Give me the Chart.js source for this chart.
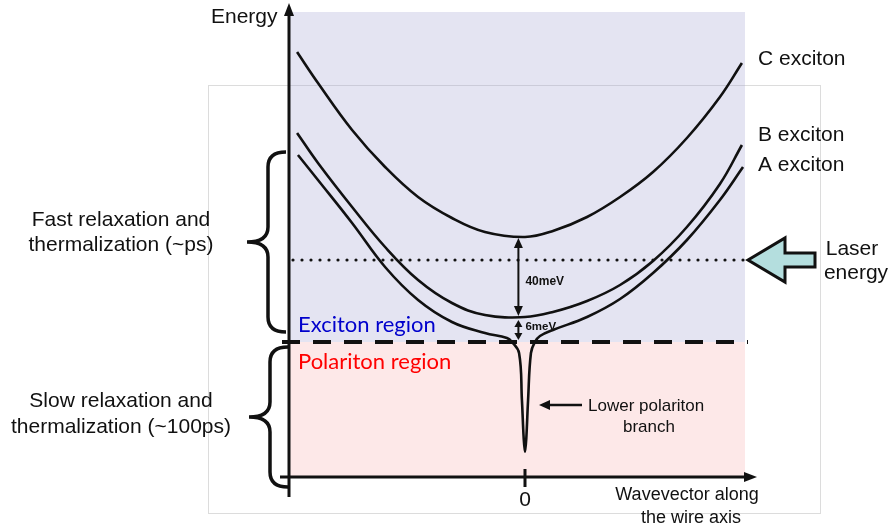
<!DOCTYPE html>
<html>
<head>
<meta charset="utf-8">
<script src="https://cdn.jsdelivr.net/npm/chart.js@4"></script>
<style>
  body { margin: 0; background: #fff; }
  #wrap { width: 892px; height: 531px; }
</style>
</head>
<body>
<div id="wrap"><canvas id="chart"></canvas></div>
<script>
// wavevector k (0 = zone centre) and energy in meV above the exciton/polariton border
const kC = [-1.036, -0.941, -0.786, -0.636, -0.486, -0.332, -0.182, 0, 0.127, 0.282, 0.432, 0.582, 0.736, 0.886, 0.986];
const eC = [145, 129.5, 106, 87.5, 72.5, 62, 55, 52.5, 55.5, 62.5, 72.5, 85, 102, 122.5, 139.5];

const kB = [-1.036, -0.941, -0.786, -0.636, -0.486, -0.332, -0.182, 0, 0.127, 0.282, 0.432, 0.582, 0.736, 0.886, 0.986];
const eB = [104.5, 89.5, 67.5, 47.5, 31, 19.5, 13.5, 12.5, 15, 20.5, 28.5, 40.5, 57.5, 79, 98.5];

// A exciton, bending down into the lower polariton branch at k = 0
const kA = [-1.032, -0.941, -0.786, -0.636, -0.486, -0.332, -0.182, -0.082, -0.059, -0.027, -0.014, -0.006, 0,
            0.006, 0.014, 0.027, 0.045, 0.068, 0.127, 0.282, 0.432, 0.582, 0.736, 0.886, 0.991];
const eA = [93.5, 81, 59.5, 37.5, 21, 10, 4.5, 2, 0, -5.5, -29, -48, -55,
            -48, -29, -5.5, 0, 3, 6, 12.5, 21.5, 34.5, 51, 71, 87.5];

const laserEnergy = 41;
const cMin = 52.5;
const bMin = 12.5;
const gapCB = 40;   // meV, C - B splitting
const gapBA = 6;    // meV, B - A splitting
const excitonTop = 165;
const regionEdgeK = 1.0;

const toXY = (ks, es) => ks.map((k, i) => ({ x: k, y: es[i] }));

const curve = (label, ks, es) => ({
  label,
  data: toXY(ks, es),
  borderColor: '#111',
  borderWidth: 2.6,
  pointRadius: 0,
  fill: false,
  tension: 0.4
});

function head(ctx, tx, ty, dx, dy, len, half) {
  const bx = tx - dx * len, by = ty - dy * len;
  ctx.beginPath();
  ctx.moveTo(tx, ty);
  ctx.lineTo(bx - dy * half, by + dx * half);
  ctx.lineTo(bx + dy * half, by - dx * half);
  ctx.closePath();
  ctx.fill();
}

function brace(ctx, x, top, bottom) {
  const spine = x - 18, tip = x - 39, mid = (top + bottom) / 2, r = 15;
  ctx.beginPath();
  ctx.moveTo(x, top);
  ctx.quadraticCurveTo(spine, top, spine, top + r);
  ctx.lineTo(spine, mid - r);
  ctx.quadraticCurveTo(spine, mid, tip, mid);
  ctx.quadraticCurveTo(spine, mid, spine, mid + r);
  ctx.lineTo(spine, bottom - r);
  ctx.quadraticCurveTo(spine, bottom, x, bottom);
  ctx.stroke();
}

const sans = '"Liberation Sans", Arial, sans-serif';

const backdrop = {
  id: 'backdrop',
  beforeDatasetsDraw(chart) {
    const { ctx, chartArea: a, scales: { x, y } } = chart;
    const x0 = a.left, x1 = x.getPixelForValue(regionEdgeK);
    const yTop = y.getPixelForValue(excitonTop), yB = y.getPixelForValue(0);
    ctx.save();
    // light frame behind the figure
    ctx.strokeStyle = '#dcdcdc';
    ctx.lineWidth = 1;
    ctx.strokeRect(208.5, 85.5, 612, 428);
    ctx.fillStyle = 'rgba(165,165,212,0.3)';
    ctx.fillRect(x0, yTop, x1 - x0, yB - yTop);
    ctx.fillStyle = 'rgba(248,178,178,0.3)';
    ctx.fillRect(x0, yB, x1 - x0, a.bottom - yB);

    // laser energy (dotted)
    const yL = y.getPixelForValue(laserEnergy);
    ctx.strokeStyle = '#111';
    ctx.lineCap = 'round';
    ctx.lineWidth = 3.2;
    ctx.setLineDash([0, 9]);
    ctx.beginPath();
    ctx.moveTo(x0 + 4, yL);
    ctx.lineTo(x1, yL);
    ctx.stroke();

    // exciton / polariton border (dashed)
    ctx.lineCap = 'butt';
    ctx.lineWidth = 4;
    ctx.setLineDash([18, 13]);
    ctx.beginPath();
    ctx.moveTo(x0 - 7, yB);
    ctx.lineTo(x1 + 3, yB);
    ctx.stroke();
    ctx.restore();
  },
  afterDatasetsDraw(chart) {
    const { ctx, chartArea: a, scales: { x, y } } = chart;
    const xZ = x.getPixelForValue(0), yB = y.getPixelForValue(0), yAx = a.bottom;
    ctx.save();
    ctx.strokeStyle = '#111';
    ctx.fillStyle = '#111';
    ctx.lineWidth = 3;

    // axes
    ctx.beginPath();
    ctx.moveTo(a.left, yAx + 20);
    ctx.lineTo(a.left, a.top + 8);
    ctx.moveTo(a.left - 9, yAx);
    ctx.lineTo(a.right - 8, yAx);
    ctx.moveTo(xZ, yAx - 8);
    ctx.lineTo(xZ, yAx + 10);
    ctx.stroke();
    head(ctx, a.left, a.top - 2, 0, -1, 13, 5);
    head(ctx, a.right + 2, yAx, 1, 0, 13, 5);

    // splitting arrows at k ~ 0
    const xs = x.getPixelForValue(-0.03);
    const yc = y.getPixelForValue(cMin), yb = y.getPixelForValue(cMin - gapCB);
    ctx.lineWidth = 2;
    ctx.beginPath();
    ctx.moveTo(xs, yc + 8);
    ctx.lineTo(xs, yb - 8);
    ctx.stroke();
    head(ctx, xs, yc + 1, 0, -1, 10, 4.5);
    head(ctx, xs, yb - 1, 0, 1, 10, 4.5);
    const yb2 = y.getPixelForValue(bMin) + 3, ya = yB - 2;
    ctx.beginPath();
    ctx.moveTo(xs, yb2 + 5);
    ctx.lineTo(xs, ya - 5);
    ctx.stroke();
    head(ctx, xs, yb2, 0, -1, 7, 4);
    head(ctx, xs, ya, 0, 1, 7, 4);

    // arrow pointing at the lower polariton branch
    ctx.lineWidth = 2.5;
    ctx.beginPath();
    ctx.moveTo(582, 405);
    ctx.lineTo(548, 405);
    ctx.stroke();
    head(ctx, 539, 405, -1, 0, 11, 5);

    // relaxation braces
    ctx.lineWidth = 3.5;
    brace(ctx, 286, 152, 332);
    brace(ctx, 288, 347, 487);

    // laser arrow
    ctx.fillStyle = '#b4dede';
    ctx.lineWidth = 3;
    ctx.lineJoin = 'miter';
    const yL = y.getPixelForValue(laserEnergy);
    ctx.beginPath();
    ctx.moveTo(748, yL);
    ctx.lineTo(785, yL - 22);
    ctx.lineTo(785, yL - 7);
    ctx.lineTo(815, yL - 7);
    ctx.lineTo(815, yL + 7);
    ctx.lineTo(785, yL + 7);
    ctx.lineTo(785, yL + 22);
    ctx.closePath();
    ctx.fill();
    ctx.stroke();

    // text
    ctx.fillStyle = '#111';
    ctx.textBaseline = 'middle';
    ctx.textAlign = 'left';
    ctx.font = '21px ' + sans;
    ctx.fillText('Energy', 211, 17);
    ctx.fillText('C exciton', 758, 59);
    ctx.fillText('B exciton', 758, 135);
    ctx.fillText('A exciton', 758, 165);
    ctx.textAlign = 'center';
    ctx.fillText('Laser', 852, 249);
    ctx.fillText('energy', 856, 273);
    ctx.fillText('Fast relaxation and', 121, 220);
    ctx.fillText('thermalization (~ps)', 121, 245);
    ctx.fillText('Slow relaxation and', 121, 401);
    ctx.fillText('thermalization (~100ps)', 121, 427);
    ctx.fillText('0', xZ, 500);
    ctx.font = '18px ' + sans;
    ctx.fillText('Wavevector along', 687, 495);
    ctx.fillText('the wire axis', 691, 518);
    ctx.font = '17px ' + sans;
    ctx.textAlign = 'left';
    ctx.fillText('Lower polariton', 588, 406);
    ctx.fillText('branch', 623, 427);
    ctx.font = 'bold 12px ' + sans;
    ctx.fillText(gapCB + 'meV', xs + 7, 282);
    ctx.font = 'bold 11.5px ' + sans;
    ctx.fillText(gapBA + 'meV', xs + 7, 327);
    ctx.font = '22px Lato, sans-serif';
    ctx.fillStyle = '#0000cc';
    ctx.fillText('Exciton region', 298, 325);
    ctx.fillStyle = '#ff0000';
    ctx.fillText('Polariton region', 298, 362);
    ctx.restore();
  }
};

new Chart(document.getElementById('chart'), {
  type: 'line',
  data: {
    datasets: [
      curve('C exciton', kC, eC),
      curve('B exciton', kB, eB),
      curve('A exciton', kA, eA)
    ]
  },
  options: {
    responsive: true,
    maintainAspectRatio: false,
    animation: false,
    layout: { padding: { left: 289, right: 137, top: 5, bottom: 54 } },
    scales: {
      x: { type: 'linear', min: -1.0727, max: 1.04545, display: false },
      y: { type: 'linear', min: -67.5, max: 168.5, display: false }
    },
    plugins: { legend: { display: false }, tooltip: { enabled: false } }
  },
  plugins: [backdrop]
});
</script>
</body>
</html>
